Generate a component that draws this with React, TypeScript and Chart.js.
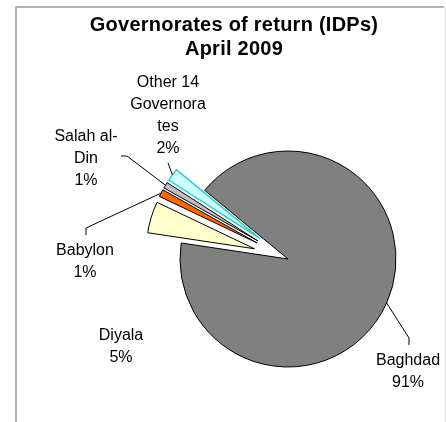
import React, { useEffect, useRef } from 'react';
import { Chart, registerables } from 'chart.js';

Chart.register(...registerables);

// ---- data ----
const categories = ['Baghdad', 'Diyala', 'Babylon', 'Salah al-Din', 'Other 14 Governorates'];
const shares = [91.4, 4.7, 1.1, 0.9, 1.9];
const labelLines = [['Baghdad'], ['Diyala'], ['Babylon'], ['Salah al-', 'Din'], ['Other 14', 'Governora', 'tes']];
const titleLines = ['Governorates of return (IDPs)', 'April 2009'];

// ---- styles ----
const fills = ['#808080', '#FFFFCC', '#FF6600', '#C0C0C0', '#CCFFFF'];
const borders = ['#000000', '#000000', '#000000', '#000000', '#33CCCC'];
const borderWidths = [1, 1, 1, 1, 1.5];
const explode = [0, 35, 35, 35, 35];
const FONT = '"Liberation Sans", Arial, sans-serif';
const LINE_H = 22;
const labelLayout: { x: number; y: number; leader: number[][] | null }[] = [
  { x: 408, y: 365, leader: [[409, 338], [409, 345]] },
  { x: 121, y: 340, leader: null },
  { x: 85, y: 255, leader: [[86, 228], [86, 235]] },
  { x: 86, y: 141, leader: [[127, 156], [121, 156]] },
  { x: 168, y: 87, leader: [[168, 163]] },
];

const explodePlugin = {
  id: 'explodeSlices',
  afterDatasetsUpdate(chart: any) {
    const meta = chart.getDatasetMeta(0);
    meta.data.forEach((arc: any, i: number) => {
      const e = explode[i];
      if (!e) return;
      const mid = (arc.startAngle + arc.endAngle) / 2;
      arc.x += Math.cos(mid) * e;
      arc.y += Math.sin(mid) * e;
    });
  },
};

const framePlugin = {
  id: 'frame',
  beforeDraw(chart: any) {
    const ctx = chart.ctx;
    ctx.save();
    ctx.strokeStyle = '#9c9c9c';
    ctx.lineWidth = 1.5;
    ctx.beginPath();
    ctx.moveTo(16, 430);
    ctx.lineTo(16, 7);
    ctx.lineTo(444, 7);
    ctx.stroke();
    ctx.strokeStyle = '#dddddd';
    ctx.lineWidth = 1;
    ctx.beginPath();
    ctx.moveTo(445.5, 7);
    ctx.lineTo(445.5, 430);
    ctx.stroke();
    ctx.restore();
  },
};

const textPlugin = {
  id: 'texts',
  afterDraw(chart: any) {
    const ctx = chart.ctx;
    ctx.save();
    // title
    ctx.fillStyle = '#000';
    ctx.textAlign = 'center';
    ctx.textBaseline = 'alphabetic';
    ctx.font = 'bold 20px ' + FONT;
    try { (ctx as any).letterSpacing = '0.25px'; } catch (e) {}
    ctx.fillText(titleLines[0], 234, 31);
    ctx.fillText(titleLines[1], 234, 54.5);
    try { (ctx as any).letterSpacing = '0px'; } catch (e) {}

    const meta = chart.getDatasetMeta(0);
    ctx.font = '16px ' + FONT;
    meta.data.forEach((arc: any, i: number) => {
      const lay = labelLayout[i];
      if (lay.leader) {
        const mid = (arc.startAngle + arc.endAngle) / 2;
        const ex = arc.x + Math.cos(mid) * arc.outerRadius;
        const ey = arc.y + Math.sin(mid) * arc.outerRadius;
        ctx.strokeStyle = '#000';
        ctx.lineWidth = 1;
        ctx.beginPath();
        ctx.moveTo(ex, ey);
        lay.leader.forEach((p) => ctx.lineTo(p[0], p[1]));
        ctx.stroke();
      }
      const lines = [...labelLines[i], Math.round(shares[i]) + '%'];
      lines.forEach((t, k) => ctx.fillText(t, lay.x, lay.y + k * LINE_H));
    });
    ctx.restore();
  },
};

export default function App() {
  const ref = useRef<HTMLCanvasElement>(null);
  useEffect(() => {
    if (!ref.current) return;
    const chart = new Chart(ref.current, {
      type: 'pie',
      data: {
        labels: categories,
        datasets: [
          {
            data: shares,
            backgroundColor: fills,
            borderColor: borders,
            borderWidth: borderWidths,
          },
        ],
      },
      options: {
        responsive: false,
        animation: false,
        events: [],
        rotation: 309.5,
        radius: 108,
        layout: { padding: { left: 180, right: 50, top: 151, bottom: 55 } },
        plugins: {
          legend: { display: false },
          tooltip: { enabled: false },
          title: { display: false },
        },
      } as any,
      plugins: [explodePlugin, framePlugin, textPlugin],
    });
    return () => chart.destroy();
  }, []);
  return (
    <div style={{ position: 'absolute', left: 0, top: 0, width: 446, height: 422, background: '#fff' }}>
      <canvas ref={ref} width={446} height={422} style={{ display: 'block' }} />
    </div>
  );
}
